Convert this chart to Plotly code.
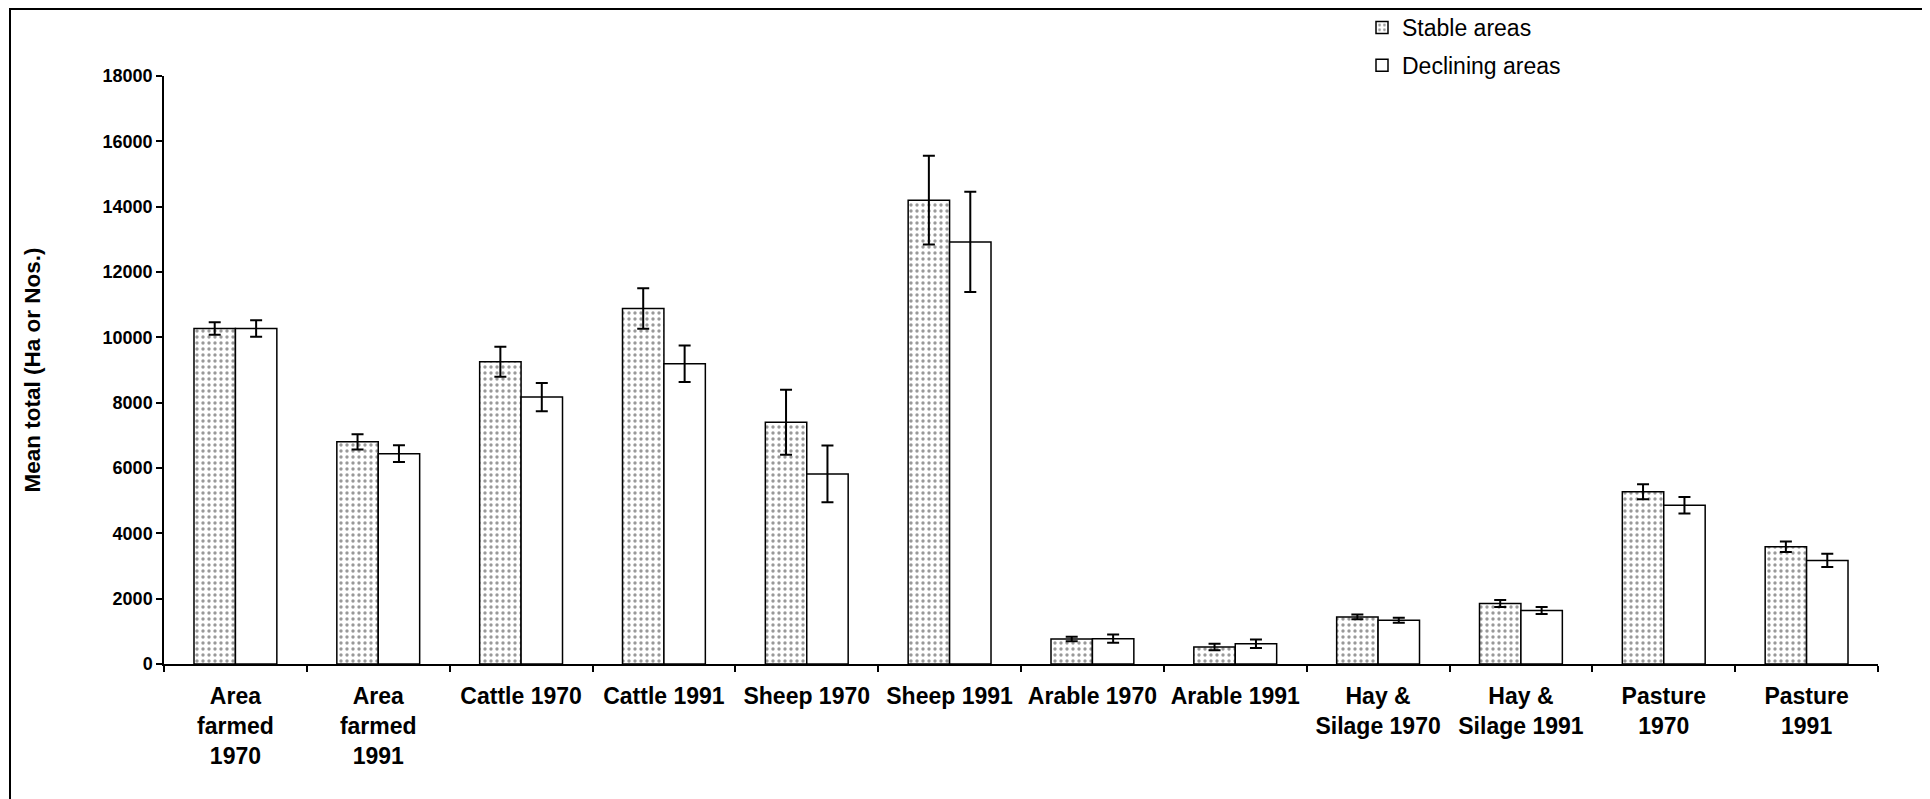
import plotly.graph_objects as go

categories = ["Area<br>farmed<br>1970", "Area<br>farmed<br>1991", "Cattle 1970", "Cattle 1991",
              "Sheep 1970", "Sheep 1991", "Arable 1970", "Arable 1991",
              "Hay &amp;<br>Silage 1970", "Hay &amp;<br>Silage 1991", "Pasture<br>1970", "Pasture<br>1991"]
stable = [10270, 6800, 9250, 10880, 7400, 14200, 765, 520, 1440, 1850, 5270, 3590]
stable_err = [190, 235, 460, 620, 995, 1360, 72, 100, 72, 107, 230, 158]
declining = [10270, 6440, 8170, 9190, 5820, 12920, 775, 620, 1340, 1640, 4860, 3170]
declining_err = [250, 255, 433, 560, 867, 1535, 128, 128, 77, 107, 255, 204]
y_ticks = list(range(0, 18001, 2000))
y_tick_text = [str(v) for v in y_ticks]

# figure sits at an 8px page offset
W, H = 1922, 791
L, R, T, B = 156, 52, 68, 135
pw, ph = W - L - R, H - T - B

def px(x):
    return (x - L) / pw

def py(y):
    return (H - B - y) / ph

FONT = "Arial, Liberation Sans, sans-serif"

fig = go.Figure()
fig.add_trace(go.Bar(
    x=categories, y=stable, name="Stable areas", legendgroup="a",
    marker=dict(color="white", line=dict(color="black", width=1.5),
                pattern=dict(shape=".", fgcolor="#333333", bgcolor="white", size=6, solidity=0.25)),
    error_y=dict(type="data", array=stable_err, visible=True, color="black", thickness=2, width=6),
))
fig.add_trace(go.Bar(
    x=categories, y=declining, name="Declining areas", legendgroup="b",
    marker=dict(color="white", line=dict(color="black", width=1.5)),
    error_y=dict(type="data", array=declining_err, visible=True, color="black", thickness=2, width=6),
))

fig.update_layout(
    width=W, height=H,
    margin=dict(l=L, r=R, t=T, b=B, autoexpand=False),
    paper_bgcolor="white", plot_bgcolor="white",
    barmode="group", bargap=0.42, bargroupgap=0,
    font=dict(family=FONT, size=21, color="black"),
    showlegend=True,
    legend=dict(x=px(1354), y=py(-2), xanchor="left", yanchor="top",
                font=dict(family=FONT, size=23, color="black"),
                tracegroupgap=5, traceorder="grouped", bgcolor="rgba(0,0,0,0)"),
    xaxis=dict(showline=True, linecolor="black", linewidth=1.5, ticks="outside",
               tickson="boundaries", ticklen=6, tickcolor="black", tickwidth=1.5,
               showgrid=False, tickfont=dict(family=FONT, size=23, color="black", weight="bold"),
               tickangle=0, ticklabelstandoff=11),
    yaxis=dict(range=[0, 18000], tickvals=y_ticks, ticktext=y_tick_text, showline=True,
               linecolor="black", linewidth=1.5, ticks="outside", ticklen=6, tickcolor="black",
               tickwidth=1.5, showgrid=False, zeroline=False,
               tickfont=dict(family=FONT, size=18, color="black", weight="bold"),
               title=dict(text="Mean total (Ha or Nos.)", standoff=56,
                          font=dict(family=FONT, size=22.5, color="black", weight="bold"))),
    shapes=[dict(type="rect", xref="paper", yref="paper",
                 x0=px(2), x1=px(1960), y0=py(830), y1=py(1),
                 line=dict(color="black", width=2), fillcolor="rgba(0,0,0,0)", layer="above")],
)

fig.write_html("out.html")
